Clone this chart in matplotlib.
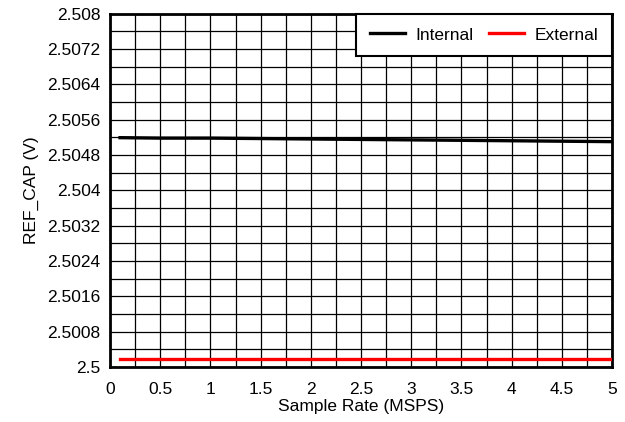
import matplotlib.pyplot as plt
import numpy as np
from matplotlib.ticker import MultipleLocator

plt.rcParams['font.family'] = ['Liberation Sans', 'DejaVu Sans']

rate = [0.1, 0.5, 1.0, 1.5, 2.0, 2.5, 3.0, 3.5, 4.0, 4.5, 5.0]
internal = [2.50519, 2.50518, 2.50518, 2.50517, 2.50516, 2.50515,
            2.50514, 2.50513, 2.50512, 2.50511, 2.50510]
external = [2.50017, 2.50017, 2.50017, 2.50017, 2.50017, 2.50017,
            2.50017, 2.50017, 2.50017, 2.50017, 2.50017]

y_ticks = [2.5, 2.5008, 2.5016, 2.5024, 2.5032, 2.504, 2.5048,
           2.5056, 2.5064, 2.5072, 2.508]
y_labels = ['2.5', '2.5008', '2.5016', '2.5024', '2.5032', '2.504',
            '2.5048', '2.5056', '2.5064', '2.5072', '2.508']
x_ticks = [0, 0.5, 1, 1.5, 2, 2.5, 3, 3.5, 4, 4.5, 5]
x_labels = ['0', '0.5', '1', '1.5', '2', '2.5', '3', '3.5', '4', '4.5', '5']

fs = 12.5

fig = plt.figure(figsize=(6.25, 4.22), dpi=100)
ax = fig.add_axes([110 / 625, 1 - 367 / 422, 502 / 625, 353.5 / 422])

ax.plot(rate, internal, color='black', linewidth=2.4, label='Internal', zorder=3)
ax.plot(rate, external, color='#ff0000', linewidth=2.4, label='External', zorder=3)

ax.set_xlim(0, 5)
ax.set_ylim(2.5, 2.508)
ax.set_xticks(x_ticks)
ax.set_xticklabels(x_labels)
ax.set_yticks(y_ticks)
ax.set_yticklabels(y_labels)
ax.xaxis.set_minor_locator(MultipleLocator(0.25))
ax.yaxis.set_minor_locator(MultipleLocator(0.0004))
ax.tick_params(which='both', length=0, labelsize=fs)
ax.tick_params(axis='x', pad=11)
ax.tick_params(axis='y', pad=7)
ax.grid(which='major', color='#000000', linewidth=0.9)
ax.grid(which='minor', color='#000000', linewidth=0.9)
ax.set_axisbelow(True)
for s in ax.spines.values():
    s.set_linewidth(2)

ax.set_xlabel('Sample Rate (MSPS)', fontsize=fs, labelpad=1)
ax.set_ylabel('REF_CAP (V)', fontsize=fs, labelpad=6)

leg = ax.legend(loc='upper right', ncol=2, fontsize=fs, fancybox=False,
                framealpha=1, edgecolor='black', borderaxespad=0,
                handlelength=2.0, columnspacing=0.9, handletextpad=0.6,
                borderpad=0.8)
leg.get_frame().set_linewidth(1.5)

fig.savefig('out.png', dpi=100)
